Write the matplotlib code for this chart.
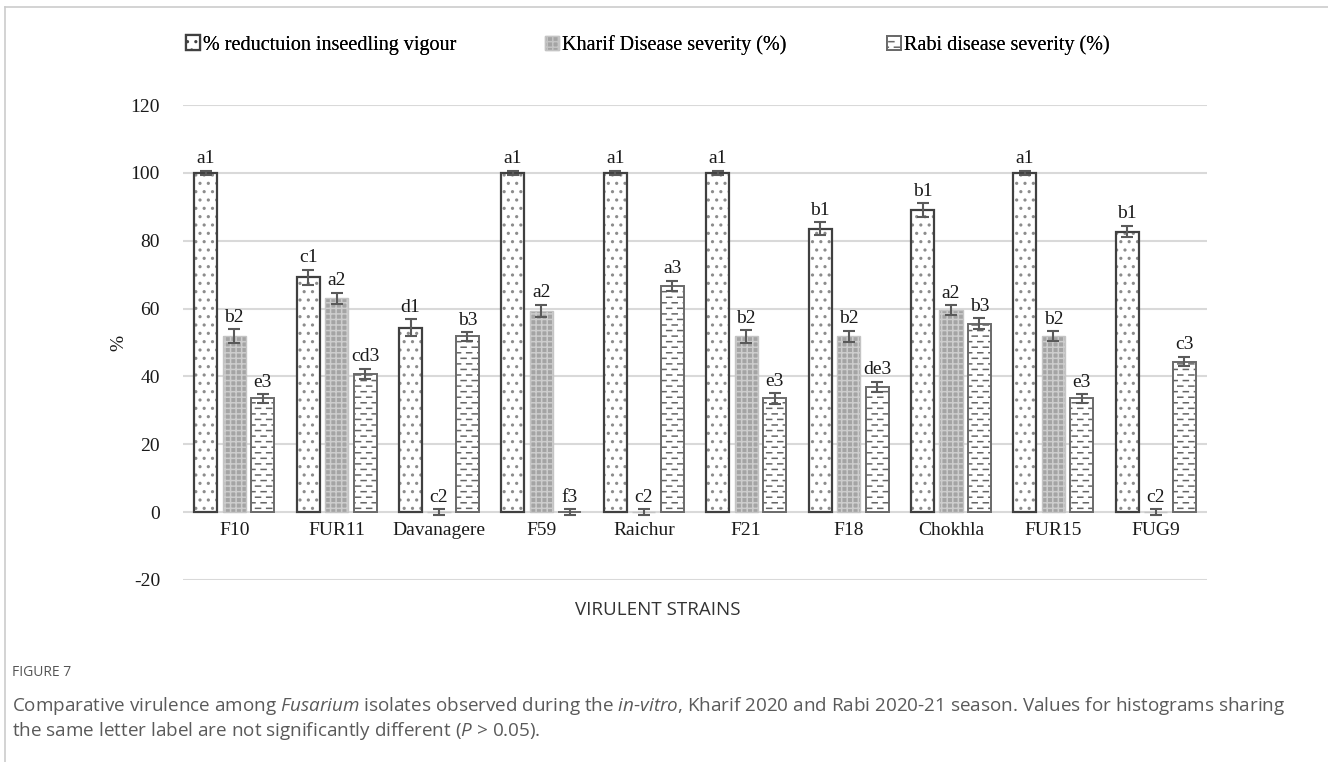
import warnings
import numpy as np
import matplotlib
matplotlib.use("Agg")
import matplotlib.pyplot as plt
import matplotlib.hatch as mhatch
from matplotlib.path import Path
from matplotlib.patches import Patch
from matplotlib.lines import Line2D

warnings.filterwarnings("ignore")

# --- data ---
strains = ["F10", "FUR11", "Davanagere", "F59", "Raichur",
           "F21", "F18", "Chokhla", "FUR15", "FUG9"]
series_names = ["% reductuion inseedling vigour",
                "Kharif Disease severity (%)",
                "Rabi disease severity (%)"]

vigour = [100, 69.2, 54.4, 100, 100, 100, 83.6, 89.1, 100, 82.7]
kharif = [52.0, 63.0, 0, 59.3, 0, 51.8, 51.8, 59.6, 51.8, 0]
rabi = [33.5, 40.7, 51.8, 0, 66.7, 33.5, 37.0, 55.5, 33.5, 44.4]

vigour_err = [0.6, 2.2, 2.5, 0.6, 0.6, 0.6, 1.8, 2.0, 0.6, 1.7]
kharif_err = [2.0, 1.7, 0.8, 1.8, 0.8, 1.8, 1.7, 1.4, 1.5, 0.8]
rabi_err = [1.3, 1.6, 1.3, 0.8, 1.5, 1.6, 1.5, 1.6, 1.3, 1.4]

vigour_lbl = ["a1", "c1", "d1", "a1", "a1", "a1", "b1", "b1", "a1", "b1"]
kharif_lbl = ["b2", "a2", "c2", "a2", "c2", "b2", "b2", "a2", "b2", "c2"]
rabi_lbl = ["e3", "cd3", "b3", "f3", "a3", "e3", "de3", "b3", "e3", "c3"]

yticks = [-20, 0, 20, 40, 60, 80, 100, 120]


# dashed hatch like the Excel "dashed horizontal" fill
class DashHatch(mhatch.HatchPatternBase):
    def __init__(self, hatch, density):
        self.num_rows = int(hatch.count('_') * density)
        self.num_cols = 9
        self.num_vertices = self.num_rows * self.num_cols * 2

    def set_vertices_and_codes(self, vertices, codes):
        k = 0
        for i in range(self.num_rows):
            y = (i + 0.5) / self.num_rows
            shift = 0.5 / self.num_cols if i % 2 else 0.0
            for j in range(self.num_cols):
                x0 = j / self.num_cols + shift
                vertices[k] = (x0, y)
                vertices[k + 1] = (x0 + 0.05, y)
                codes[k] = Path.MOVETO
                codes[k + 1] = Path.LINETO
                k += 2


mhatch._hatch_types.append(DashHatch)

serif = ["Liberation Serif", "DejaVu Serif"]
plt.rcParams['font.family'] = serif
plt.rcParams['hatch.linewidth'] = 1.1

# fill (hatch colour given as edgecolor) and outline kept apart
fills = [
    dict(facecolor="white", edgecolor="#8c8c8c", hatch=".."),
    dict(facecolor="#a4a4a4", edgecolor="#cdcdcd", hatch="+++"),
    dict(facecolor="white", edgecolor="#666666", hatch="___"),
]
outlines = [
    dict(edgecolor="#404040", linewidth=1.6),
    dict(edgecolor="#c4c4c4", linewidth=1.0),
    dict(edgecolor="#6a6a6a", linewidth=1.4),
]

fig = plt.figure(figsize=(13.28, 7.62), dpi=100)
ax = fig.add_axes([183 / 1328, 1 - 580 / 762, 1024 / 1328, 475 / 762])

x = np.arange(len(strains))
width = 0.225
step = 0.278
data = [vigour, kharif, rabi]
errs = [vigour_err, kharif_err, rabi_err]
lbls = [vigour_lbl, kharif_lbl, rabi_lbl]

for k in range(3):
    xs = x + (k - 1) * step
    ax.bar(xs, data[k], width, linewidth=0, zorder=3, **fills[k])
    ax.bar(xs, data[k], width, fill=False, zorder=3.5, **outlines[k])
    ax.errorbar(xs, data[k], yerr=errs[k], fmt='none', ecolor="#5a5a5a",
                elinewidth=1.5, capsize=4, capthick=1.5, zorder=4)
    for xi, v, e, t in zip(xs, data[k], errs[k], lbls[k]):
        ax.text(xi, v + e + 1.0, t, ha='center', va='bottom',
                fontsize=14, color="#1a1a1a", zorder=5)

ax.set_xlim(-0.5, len(strains) - 0.5)
ax.set_ylim(-20, 120)
ax.set_yticks(yticks)
ax.set_yticklabels([str(t) for t in yticks])
ax.set_xticks([])
ax.tick_params(axis='both', length=0, labelsize=14, colors="#1a1a1a")
ax.tick_params(axis='y', pad=16.5)
for s in ax.spines.values():
    s.set_visible(False)
ax.yaxis.grid(True, color="#d9d9d9", linewidth=1.5, zorder=0)
ax.set_axisbelow(True)

# category labels sit just below the zero line
for xi, s in zip(x, strains):
    ax.text(xi, -3.0, s, ha='center', va='top', fontsize=14,
            color="#1a1a1a")

ax.set_ylabel("%", fontsize=14, color="#1a1a1a")
ax.yaxis.set_label_coords(-0.0547, 0.5)

# legend, three entries spread like the Excel one
legend_x = [186, 545, 887]
for k in range(3):
    h = Patch(**fills[k], linewidth=outlines[k]["linewidth"])
    h.set_edgecolor(outlines[k]["edgecolor"])
    leg = fig.legend(handles=[h], labels=[series_names[k]],
                     loc='center left',
                     bbox_to_anchor=(legend_x[k] / 1328 - 0.006, 1 - 45 / 762),
                     frameon=False, fontsize=14.5, handlelength=0.7,
                     handleheight=0.7, handletextpad=0.15, borderaxespad=0)
    fig.add_artist(leg)

fig.text(658 / 1328, 1 - 610 / 762, "VIRULENT STRAINS", ha='center',
         va='center', fontsize=13.5, color="#333333", family="Open Sans")

# caption
plt.rcParams['mathtext.fontset'] = 'custom'
plt.rcParams['mathtext.it'] = 'Open Sans:italic'
plt.rcParams['mathtext.rm'] = 'Open Sans'
fig.text(12 / 1328, 1 - 673 / 762, "FIGURE 7", ha='left', va='center',
         fontsize=10, color="#555555", family="Open Sans")
cap1 = ("Comparative virulence among $\\it{Fusarium}$ isolates observed during the "
        "$\\it{in}$-$\\it{vitro}$, Kharif 2020 and Rabi 2020-21 season. Values for "
        "histograms sharing")
cap2 = ("the same letter label are not significantly different "
        "($\\it{P}$ > 0.05).")
fig.text(12 / 1328, 1 - 706 / 762, cap1, ha='left', va='center',
         fontsize=13.6, color="#5a5a5a", family="Open Sans")
fig.text(12 / 1328, 1 - 731 / 762, cap2, ha='left', va='center',
         fontsize=13.6, color="#5a5a5a", family="Open Sans")

# panel frame lines
fig.add_artist(Line2D([5 / 1328, 5 / 1328], [0, 1 - 7 / 762],
                      transform=fig.transFigure, color="#cccccc", linewidth=1.2))
fig.add_artist(Line2D([5 / 1328, 1], [1 - 7 / 762, 1 - 7 / 762],
                      transform=fig.transFigure, color="#cccccc", linewidth=1.2))

fig.savefig("out.png", dpi=100)
